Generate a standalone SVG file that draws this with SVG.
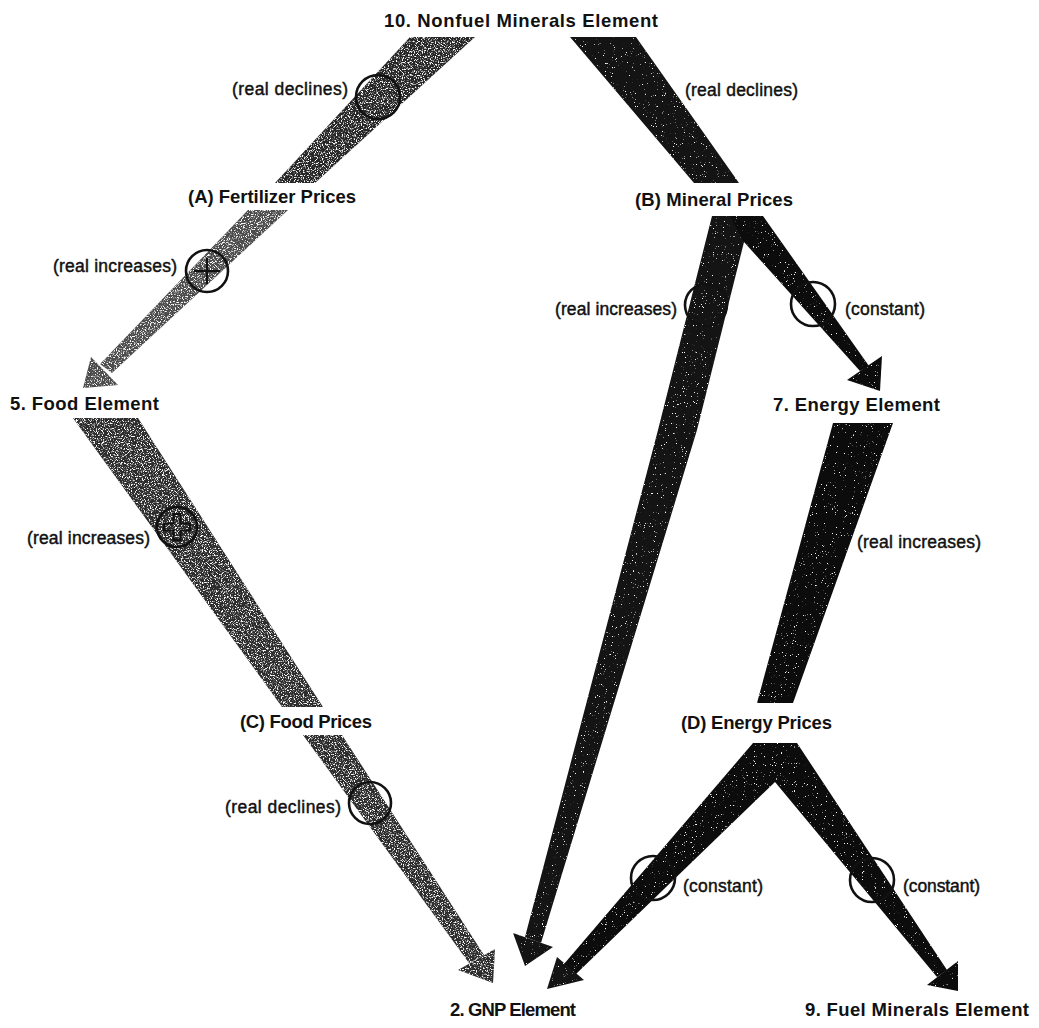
<svg xmlns="http://www.w3.org/2000/svg" width="1039" height="1028" viewBox="0 0 1039 1028">
<style>
.lbl{font-family:"Liberation Sans",Arial,sans-serif;font-weight:bold;font-size:18.5px;fill:#111}
.note{font-family:"Liberation Sans",Arial,sans-serif;font-size:17.5px;fill:#111;stroke:#111;stroke-width:0.45px}
.ring{fill:none;stroke:#111;stroke-width:2.6}
.sign{fill:none;stroke:#111;stroke-width:2}
.g1{fill:#262626;filter:url(#grain)}
.g2{fill:#4c4c4c;filter:url(#grain)}
.g3{fill:#2c2c2c;filter:url(#grain)}
.k1{fill:#141414;filter:url(#grainDark)}
.k2{fill:#0c0c0c;filter:url(#grainDark)}
</style>
<defs>
<filter id="grain" x="-5%" y="-5%" width="110%" height="110%" color-interpolation-filters="sRGB">
<feTurbulence type="fractalNoise" baseFrequency="0.85" numOctaves="2" seed="7" result="noise"/>
<feColorMatrix in="noise" type="matrix" values="0 0 0 0 1 0 0 0 0 1 0 0 0 0 1 6 0 0 0 -3.1" result="white"/>
<feComposite in="white" in2="SourceGraphic" operator="in" result="whiteIn"/>
<feMerge><feMergeNode in="SourceGraphic"/><feMergeNode in="whiteIn"/></feMerge>
</filter>
<filter id="grainDark" x="-5%" y="-5%" width="110%" height="110%" color-interpolation-filters="sRGB">
<feTurbulence type="fractalNoise" baseFrequency="0.9" numOctaves="2" seed="3" result="noise"/>
<feColorMatrix in="noise" type="matrix" values="0 0 0 0 1 0 0 0 0 1 0 0 0 0 1 12 0 0 0 -8.4" result="white"/>
<feComposite in="white" in2="SourceGraphic" operator="in" result="whiteIn"/>
<feMerge><feMergeNode in="SourceGraphic"/><feMergeNode in="whiteIn"/></feMerge>
</filter>
</defs>
<rect width="1039" height="1028" fill="#fff"/>

<g id="connectors">
  <g id="e-10-A">
    <polygon class="g1" points="410,37 475,37 315,183 275,183"/>
    <circle class="ring" cx="378" cy="97" r="22"/>
    <text class="note" x="232" y="95" textLength="116">(real declines)</text>
  </g>
  <g id="e-A-5">
    <polygon class="g2" points="248,210 288,210 112,373 100,364"/>
    <polygon class="g2" points="91,357 118,385 83,388"/>
    <circle class="ring" cx="207" cy="271" r="21"/>
    <path class="sign" d="M207,258 V284 M194,271 H220"/>
    <text class="note" x="53" y="272" textLength="124">(real increases)</text>
  </g>
  <g id="e-5-C">
    <polygon class="g3" points="73,418 138,418 323,707 282,707"/>
    <circle class="ring" cx="177" cy="527" r="20"/>
    <path class="sign" stroke-width="1.6" d="M173.5,514 h7 v9.5 h9.5 v7 h-9.5 v9.5 h-7 v-9.5 h-9.5 v-7 h9.5 z"/>
    <text class="note" x="27" y="544" textLength="123">(real increases)</text>
  </g>
  <g id="e-C-2">
    <polygon class="g3" points="303,735 342,735 484,955 469,963"/>
    <polygon class="g3" points="495,949 458,970 493,983"/>
    <circle class="ring" cx="370" cy="803" r="21"/>
    <text class="note" x="225" y="813" textLength="116">(real declines)</text>
  </g>
  <g id="e-10-B">
    <polygon class="k1" points="570,37 636,37 739,183 694,183"/>
    <text class="note" x="685" y="96" textLength="113">(real declines)</text>
  </g>
  <g id="e-B-2">
    <polygon class="k1" points="712,216 763,216 744,242 697,430 541,943 525,937 658,430"/>
    <polygon class="k1" points="513,933 553,947 525,966"/>
    <circle class="ring" cx="706" cy="305" r="21"/>
    <text class="note" x="555" y="315" textLength="122">(real increases)</text>
  </g>
  <g id="e-B-7">
    <polygon class="k2" points="730,216 763,216 869,366 860,371 744,242"/>
    <polygon class="k2" points="882,356 847,380 880,391"/>
    <circle class="ring" cx="813" cy="304" r="22"/>
    <text class="note" x="845" y="315" textLength="80">(constant)</text>
  </g>
  <g id="e-7-D">
    <polygon class="k2" points="833,423 893,423 793,703 757,703"/>
    <text class="note" x="857" y="548" textLength="124">(real increases)</text>
  </g>
  <g id="e-D-2">
    <polygon class="k2" points="753,743 797,743 775,782 576,974 564,964"/>
    <polygon class="k1" points="557,957 584,980 547,989"/>
    <circle class="ring" cx="653" cy="878" r="22"/>
    <text class="note" x="683" y="892" textLength="80">(constant)</text>
  </g>
  <g id="e-D-9">
    <polygon class="k2" points="775,743 797,743 947,970 937,977 775,782"/>
    <polygon class="k2" points="958,961 927,985 958,991"/>
    <circle class="ring" cx="872" cy="880" r="22"/>
    <text class="note" x="903" y="892" textLength="77">(constant)</text>
  </g>
</g>

<g id="n10"><text class="lbl" x="384" y="27" textLength="274">10. Nonfuel Minerals Element</text></g>
<g id="nA"><text class="lbl" x="188" y="203" textLength="168">(A) Fertilizer Prices</text></g>
<g id="nB"><text class="lbl" x="635" y="206" textLength="158">(B) Mineral Prices</text></g>
<g id="n5"><text class="lbl" x="10" y="410" textLength="149">5. Food Element</text></g>
<g id="n7"><text class="lbl" x="773" y="411" textLength="167">7. Energy Element</text></g>
<g id="nC"><text class="lbl" x="240" y="728" textLength="132">(C) Food Prices</text></g>
<g id="nD"><text class="lbl" x="681" y="729" textLength="151">(D) Energy Prices</text></g>
<g id="n2"><text class="lbl" x="450" y="1016" textLength="126">2. GNP Element</text></g>
<g id="n9"><text class="lbl" x="805" y="1016" textLength="224">9. Fuel Minerals Element</text></g>
</svg>
